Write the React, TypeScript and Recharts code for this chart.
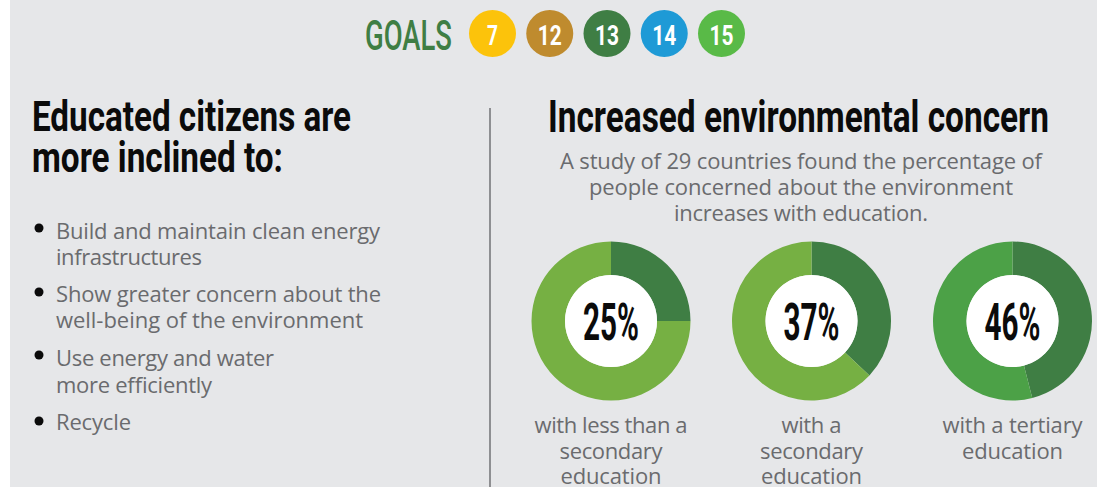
import { PieChart, Pie, Cell } from 'recharts'

// education levels and share of people concerned about the environment
const levels = ['Less than secondary', 'Secondary', 'Tertiary']
const concernedPct = [25, 37, 46]
const pctLabels = ['25%', '37%', '46%']
const captions = [
  ['with less than a', 'secondary', 'education'],
  ['with a', 'secondary', 'education'],
  ['with a tertiary', 'education'],
]
const restColors = ['#76B043', '#76B043', '#4CA147']

const goalNumbers = ['7', '12', '13', '14', '15']
const goalColors = ['#FCC30B', '#BF8B2E', '#3F7E44', '#1E9AD6', '#59BA47']

const bullets = [
  ['Build and maintain clean energy', 'infrastructures'],
  ['Show greater concern about the', 'well-being of the environment'],
  ['Use energy and water', 'more efficiently'],
  ['Recycle'],
]
const subtitle = [
  'A study of 29 countries found the percentage of',
  'people concerned about the environment',
  'increases with education.',
]

const W = 1097
const H = 487
const BG = '#E6E7E9'
const GRAY = '#6A6B6E'
const DARK = '#3F7E44'
const BODY = '"Open Sans", "Noto Sans", sans-serif'
const COND = 'Roboto, "DejaVu Sans", sans-serif'

// measured line widths (px)
const bulletWidths = [[324, 146], [325, 307], [218, 156], [75]]
const bulletBase = [[239, 265], [302, 328], [366, 393], [430]]
const bulletDotY = [228, 292, 355, 421]
const subtitleWidths = [482, 424, 254]
const captionWidths = [[153, 103, 101], [60, 103, 101], [140, 101]]
const donutCx = [611, 811.5, 1012.5]
const donutCy = 321

function T({
  x,
  y,
  w,
  size,
  fill = GRAY,
  family = BODY,
  weight = 400,
  anchor = 'start',
  squeeze = false,
  children,
}: {
  x: number
  y: number
  w?: number
  size: number
  fill?: string
  family?: string
  weight?: number
  anchor?: 'start' | 'middle' | 'end'
  squeeze?: boolean
  children: string
}) {
  return (
    <text
      x={x}
      y={y}
      textLength={w}
      lengthAdjust={squeeze ? 'spacingAndGlyphs' : 'spacing'}
      fontSize={size}
      fill={fill}
      fontFamily={family}
      fontWeight={weight}
      textAnchor={anchor}
    >
      {children}
    </text>
  )
}

const pctLabel = (text: string) => (p: any) => (
  <text
    x={p.cx}
    y={p.cy + 18.5}
    textAnchor="middle"
    textLength={56}
    lengthAdjust="spacingAndGlyphs"
    fontSize={52}
    fontFamily={COND}
    fontWeight={700}
    fill="#0B0B0B"
  >
    {text}
  </text>
)

export default function App() {
  return (
    <div style={{ position: 'absolute', left: 0, top: 0, width: W, height: H, background: '#fff', overflow: 'hidden' }}>
      <div style={{ position: 'absolute', left: 10, top: 0, right: 0, bottom: 0, background: BG }} />

      <svg width={W} height={H} style={{ position: 'absolute', left: 0, top: 0 }}>
        {/* goals header */}
        <T x={365} y={50} w={87} size={42} fill={DARK} family={COND} weight={500} squeeze>
          GOALS
        </T>
        {goalNumbers.map((g, i) => {
          const cx = 492.5 + i * 57.25
          return (
            <g key={g}>
              <circle cx={cx} cy={33.5} r={23.5} fill={goalColors[i]} />
              <T x={cx} y={45} w={g.length > 1 ? 24 : 11} size={28} fill="#fff" family={COND} weight={700} anchor="middle" squeeze>
                {g}
              </T>
            </g>
          )
        })}

        {/* left column */}
        <T x={32} y={131} w={319} size={42} fill="#0B0B0B" family={COND} weight={700} squeeze>
          Educated citizens are
        </T>
        <T x={32} y={172} w={251} size={42} fill="#0B0B0B" family={COND} weight={700} squeeze>
          more inclined to:
        </T>
        {bullets.map((lines, i) => (
          <g key={i}>
            <circle cx={39} cy={bulletDotY[i]} r={4.5} fill="#0B0B0B" />
            {lines.map((line, j) => (
              <T key={j} x={56} y={bulletBase[i][j]} w={bulletWidths[i][j]} size={22}>
                {line}
              </T>
            ))}
          </g>
        ))}

        <line x1={490} y1={108} x2={490} y2={H} stroke="#8E8F92" strokeWidth={2} />

        {/* right column */}
        <T x={798.5} y={132} w={501} size={44} fill="#0B0B0B" family={COND} weight={700} anchor="middle" squeeze>
          Increased environmental concern
        </T>
        {subtitle.map((line, i) => (
          <T key={i} x={801} y={169 + i * 26} w={subtitleWidths[i]} size={22} anchor="middle">
            {line}
          </T>
        ))}
        {captions.map((lines, i) =>
          lines.map((line, j) => (
            <T key={`${i}-${j}`} x={donutCx[i]} y={433 + j * 25.5} w={captionWidths[i][j]} size={22} anchor="middle">
              {line}
            </T>
          )),
        )}
      </svg>

      <div style={{ position: 'absolute', left: 0, top: 0 }}>
        <PieChart width={W} height={H} margin={{ top: 0, right: 0, bottom: 0, left: 0 }}>
          {levels.map((lvl, i) => (
            <Pie
              key={lvl}
              data={[
                { name: 'Concerned', value: concernedPct[i] },
                { name: 'Other', value: 100 - concernedPct[i] },
              ]}
              dataKey="value"
              cx={donutCx[i]}
              cy={donutCy}
              innerRadius={46}
              outerRadius={79.5}
              startAngle={90}
              endAngle={-270}
              stroke="none"
              isAnimationActive={false}
            >
              <Cell fill={DARK} />
              <Cell fill={restColors[i]} />
            </Pie>
          ))}
          {levels.map((lvl, i) => (
            <Pie
              key={`${lvl}-hole`}
              data={[{ name: lvl, value: concernedPct[i] }]}
              dataKey="value"
              cx={donutCx[i]}
              cy={donutCy}
              innerRadius={0}
              outerRadius={46}
              fill="#FFFFFF"
              stroke="none"
              label={pctLabel(pctLabels[i])}
              labelLine={false}
              isAnimationActive={false}
            />
          ))}
        </PieChart>
      </div>
    </div>
  )
}
